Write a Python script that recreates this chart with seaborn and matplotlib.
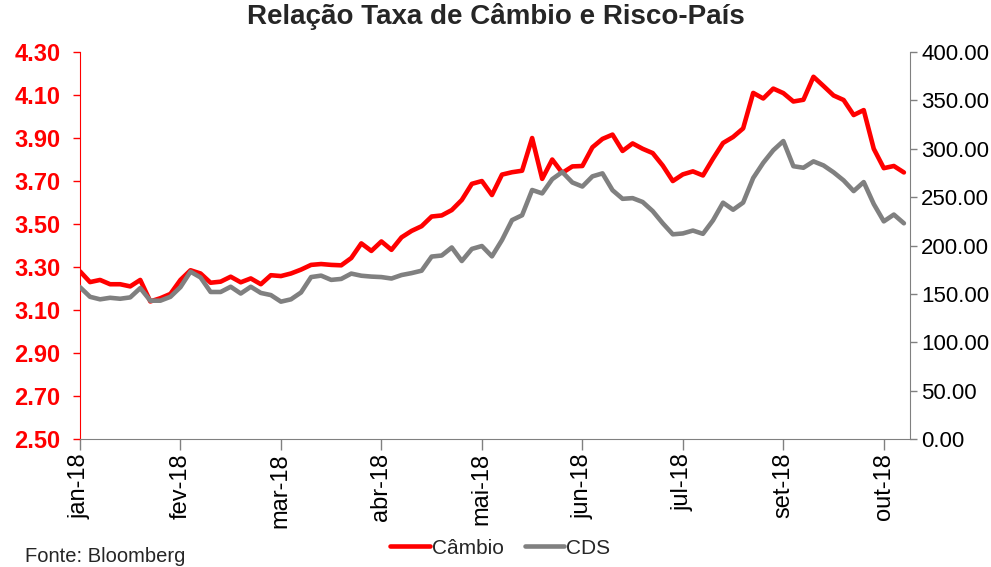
import numpy as np
import pandas as pd
import matplotlib
matplotlib.use("Agg")
import matplotlib.pyplot as plt
import seaborn as sns
from matplotlib.ticker import FormatStrFormatter

# dados (10 pontos por mes)
meses = ["jan-18", "fev-18", "mar-18", "abr-18", "mai-18",
         "jun-18", "jul-18", "set-18", "out-18"]

cambio = [
    3.28, 3.23, 3.24, 3.22, 3.22, 3.21, 3.24, 3.14, 3.155, 3.175,
    3.24, 3.285, 3.27, 3.227, 3.232, 3.255, 3.229, 3.247, 3.22, 3.262,
    3.258, 3.27, 3.288, 3.31, 3.314, 3.31, 3.308, 3.342, 3.41, 3.375,
    3.419, 3.38, 3.438, 3.468, 3.49, 3.535, 3.54, 3.565, 3.612, 3.687,
    3.70, 3.635, 3.73, 3.741, 3.748, 3.90, 3.71, 3.80, 3.738, 3.768,
    3.77, 3.857, 3.896, 3.916, 3.84, 3.875, 3.85, 3.83, 3.772, 3.70,
    3.731, 3.745, 3.726, 3.804, 3.877, 3.905, 3.945, 4.11, 4.084, 4.13,
    4.109, 4.07, 4.078, 4.185, 4.142, 4.098, 4.077, 4.007, 4.03, 3.85,
    3.76, 3.77, 3.74]

cds = [
    157, 147, 144.4, 146, 145, 146.4, 156, 143, 143, 147,
    157, 173, 167, 152, 152, 157.4, 150.4, 157.4, 151, 148.8,
    142, 144.4, 151.5, 167.4, 168.9, 164.5, 165.5, 171, 168.8, 167.9,
    167.4, 165.9, 169.5, 171.5, 174, 188.6, 189.7, 198, 184, 196.5,
    199.5, 188.8, 205.7, 226.3, 231.3, 257.4, 253.9, 268.6, 276, 265.2,
    261, 271.5, 274.6, 257.2, 248.3, 249, 245, 235.6, 223, 211.6,
    212.5, 215.5, 212.1, 226, 244.3, 237, 244.4, 269.8, 285.5, 298.5,
    308, 282, 280.4, 287, 282.8, 275.7, 267.3, 256.3, 265.6, 242.9,
    225, 232, 223]

df = pd.DataFrame({"dia": np.arange(len(cambio)), "Câmbio": cambio, "CDS": cds})

sns.set_style("white")
plt.rcParams['font.family'] = ['Liberation Sans', 'DejaVu Sans']

fig = plt.figure(figsize=(9.91, 5.67), dpi=100)
ax = fig.add_axes([0.0807, 0.2257, 0.8375, 0.6825])
ax2 = ax.twinx()

sns.lineplot(data=df, x="dia", y="Câmbio", ax=ax, color="#FF0000", lw=3.3,
             label="Câmbio", legend=False)
sns.lineplot(data=df, x="dia", y="CDS", ax=ax2, color="#808080", lw=3.3,
             label="CDS", legend=False)

ax.set_xlim(0, 82.6)
ax.set_ylim(2.5, 4.3)
ax.set_yticks(np.arange(2.5, 4.31, 0.2))
ax.yaxis.set_major_formatter(FormatStrFormatter('%.2f'))
ax.set_xticks(range(0, 81, 10))
ax.set_xticklabels(meses, rotation=90)
ax.set_xlabel("")
ax.set_ylabel("")

ax2.set_ylim(0, 400)
ax2.set_yticks(np.arange(0, 401, 50))
ax2.yaxis.set_major_formatter(FormatStrFormatter('%.2f'))
ax2.set_ylabel("")

ax.tick_params(axis='y', left=True, colors='#FF0000', labelsize=17,
               length=5, width=1, direction='out', pad=9)
for lbl in ax.get_yticklabels():
    lbl.set_fontweight('bold')
ax.tick_params(axis='x', bottom=True, labelsize=17, length=8, width=1,
               color='#808080', labelcolor='black', direction='out', pad=2)
ax2.tick_params(axis='y', right=True, labelsize=16, length=5, width=1,
                color='#808080', labelcolor='black', direction='out', pad=3)

for s in ['top', 'right']:
    ax.spines[s].set_visible(False)
ax.spines['left'].set_color('#FF0000')
ax.spines['bottom'].set_color('#808080')
for s in ['top', 'left', 'bottom']:
    ax2.spines[s].set_visible(False)
ax2.spines['right'].set_color('#808080')

handles = ax.get_lines()[:1] + ax2.get_lines()[:1]
fig.legend(handles, ["Câmbio", "CDS"], loc='center', bbox_to_anchor=(0.505, 0.033),
           ncol=2, frameon=False, fontsize=15, handlelength=1.9,
           handletextpad=0.1, columnspacing=1.0)

fig.text(0.5, 1 - 17 / 567, "Relação Taxa de Câmbio e Risco-País", ha='center',
         va='center', fontsize=20, fontweight='bold')
fig.text(25 / 991, 1 - 557 / 567, "Fonte: Bloomberg", fontsize=14.5, va='center')

fig.savefig("out.png", dpi=100)
